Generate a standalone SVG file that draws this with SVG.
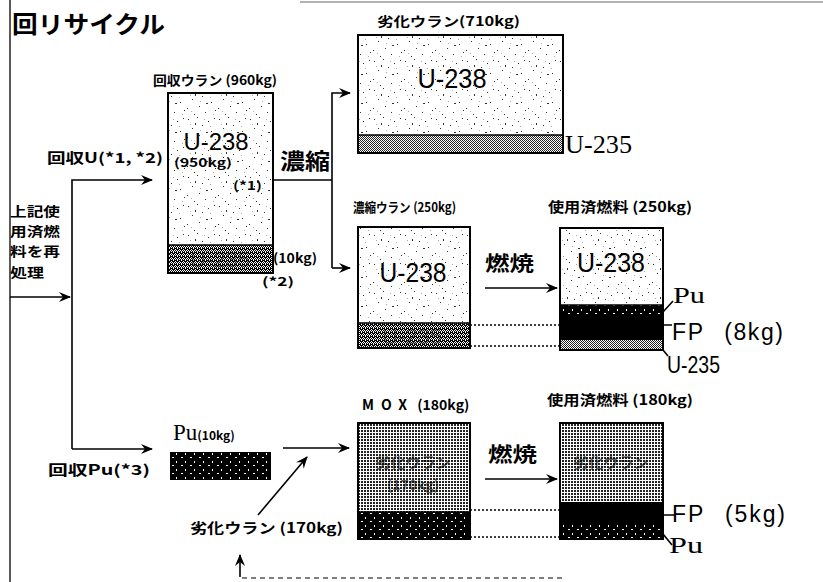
<svg xmlns="http://www.w3.org/2000/svg" width="823" height="582" viewBox="0 0 823 582">
<defs>
<style>
.jp{font-family:"Noto Sans CJK JP","Noto Sans",sans-serif;font-weight:bold;fill:#000}
.sans{font-family:"Liberation Sans",Arial,sans-serif;fill:#000}
.serif{font-family:"Liberation Serif","Times New Roman",serif;fill:#000}
.box{stroke:#000;stroke-width:2}
.ln{fill:none;stroke:#000;stroke-width:1.6}
.dot{fill:none;stroke:#000;stroke-width:1.5;stroke-dasharray:2 2}
</style>
<marker id="ah" viewBox="0 0 12 10" refX="11" refY="5" markerWidth="13" markerHeight="10" markerUnits="userSpaceOnUse" orient="auto">
<path d="M0,0 L12,5 L0,10 L4,5 z" fill="#000"/>
</marker>
<pattern id="stip" width="31" height="29" patternUnits="userSpaceOnUse">
<rect width="31" height="29" fill="#fff"/>
<g fill="#333">
<rect x="2" y="3" width="1" height="1"/><rect x="11" y="1" width="1" height="1"/><rect x="22" y="5" width="1" height="1"/><rect x="28" y="2" width="1" height="1"/>
<rect x="6" y="12" width="1" height="1"/><rect x="16" y="9" width="1" height="1"/><rect x="25" y="15" width="1" height="1"/><rect x="1" y="21" width="1" height="1"/>
<rect x="13" y="19" width="1" height="1"/><rect x="19" y="25" width="1" height="1"/><rect x="29" y="23" width="1" height="1"/><rect x="8" y="27" width="1" height="1"/>
<rect x="20" y="16" width="2" height="1"/><rect x="9" y="7" width="1" height="2"/>
</g>
<g fill="#aaa">
<rect x="4" y="8" width="1" height="1"/><rect x="14" y="14" width="1" height="1"/><rect x="24" y="10" width="1" height="1"/><rect x="27" y="27" width="1" height="1"/><rect x="5" y="24" width="1" height="1"/><rect x="18" y="3" width="1" height="1"/>
</g>
</pattern>
<pattern id="dense" width="3" height="3" patternUnits="userSpaceOnUse">
<rect width="3" height="3" fill="#fff"/><rect x="1" y="1" width="2" height="2" fill="#222"/>
</pattern>
<pattern id="u235" width="4" height="4" patternUnits="userSpaceOnUse">
<rect width="4" height="4" fill="#000"/>
<g fill="#fff"><rect x="1" y="0" width="1" height="1"/><rect x="3" y="1" width="1" height="1"/><rect x="0" y="2" width="1" height="1"/><rect x="2" y="2" width="1" height="1"/><rect x="1" y="3" width="1" height="1"/><rect x="3" y="3" width="1" height="1"/></g>
</pattern>
<pattern id="chk" width="2" height="2" patternUnits="userSpaceOnUse">
<rect width="2" height="2" fill="#fff"/><rect width="1" height="1" fill="#222"/><rect x="1" y="1" width="1" height="1" fill="#222"/>
</pattern>
<pattern id="pu" width="9" height="8" patternUnits="userSpaceOnUse">
<rect width="9" height="8" fill="#000"/><rect x="1" y="1" width="2" height="1" fill="#fff"/><rect x="5" y="5" width="1" height="2" fill="#fff"/>
</pattern>
</defs>
<rect width="823" height="582" fill="#fff"/>

<!-- frame lines -->
<line x1="10" y1="0" x2="10" y2="582" stroke="#222" stroke-width="1.5"/>
<line x1="300" y1="2" x2="823" y2="2" stroke="#999" stroke-width="1.5"/>

<text class="jp" x="12" y="33" font-size="24" textLength="153" lengthAdjust="spacingAndGlyphs">回リサイクル</text>

<!-- left label -->
<g id="source">
<text class="jp" x="10" y="216" font-size="13" textLength="50" lengthAdjust="spacingAndGlyphs">上記使</text>
<text class="jp" x="10" y="236" font-size="13" textLength="50" lengthAdjust="spacingAndGlyphs">用済燃</text>
<text class="jp" x="10" y="256" font-size="13" textLength="50" lengthAdjust="spacingAndGlyphs">料を再</text>
<text class="jp" x="10" y="277" font-size="13" textLength="34" lengthAdjust="spacingAndGlyphs">処理</text>
</g>

<!-- connectors -->
<g id="connectors">
<path class="ln" d="M10,297 L70,297" marker-end="url(#ah)"/>
<path class="ln" d="M72,449 L72,180 L152,180" marker-end="url(#ah)"/>
<path class="ln" d="M72,449 L152,449" marker-end="url(#ah)"/>
<path class="ln" d="M273,180 L332,180"/>
<path class="ln" d="M332,268 L332,93 L350,93" marker-end="url(#ah)"/>
<path class="ln" d="M332,268 L350,268" marker-end="url(#ah)"/>
<path class="ln" d="M485,288 L557,288" marker-end="url(#ah)"/>
<path class="ln" d="M485,479 L557,479" marker-end="url(#ah)"/>
<path class="ln" d="M283,448 L349,448" marker-end="url(#ah)"/>
<path class="ln" d="M258,515 L307,457" marker-end="url(#ah)"/>
<path class="ln" d="M240,577 L240,555" marker-end="url(#ah)"/>
<path d="M242,578 L565,578" fill="none" stroke="#000" stroke-width="1.2" stroke-dasharray="5 4"/>
<path class="dot" d="M470,325 L560,325 M470,346 L560,346"/>
<path class="dot" d="M470,510 L560,510 M470,537 L560,537"/>
</g>

<g id="labels">
<text class="jp" x="47" y="163" font-size="14" textLength="116" lengthAdjust="spacingAndGlyphs">回収U(*1, *2)</text>
<text class="jp" x="48" y="475" font-size="14" textLength="102" lengthAdjust="spacingAndGlyphs">回収Pu(*3)</text>
<text class="jp" x="280" y="169" font-size="22" textLength="50" lengthAdjust="spacingAndGlyphs">濃縮</text>
<text class="jp" x="485" y="271" font-size="20" textLength="49" lengthAdjust="spacingAndGlyphs">燃焼</text>
<text class="jp" x="488" y="462" font-size="20" textLength="49" lengthAdjust="spacingAndGlyphs">燃焼</text>
<text class="jp" x="190" y="533" font-size="14" textLength="153" lengthAdjust="spacingAndGlyphs">劣化ウラン (170kg)</text>
</g>

<!-- recovered uranium -->
<g id="recovered-u">
<text class="jp" x="153" y="85" font-size="13" textLength="124" lengthAdjust="spacingAndGlyphs">回収ウラン (960kg)</text>
<rect class="box" x="168" y="93" width="105" height="180" fill="url(#stip)"/>
<rect x="169" y="245" width="103" height="27" fill="url(#u235)"/>
<line x1="168" y1="245" x2="273" y2="245" stroke="#000" stroke-width="1.5"/>
<text class="sans" x="216" y="150" font-size="24" text-anchor="middle" textLength="65" lengthAdjust="spacingAndGlyphs">U-238</text>
<text class="jp" x="203" y="167" font-size="12" text-anchor="middle" textLength="58" lengthAdjust="spacingAndGlyphs">(950kg)</text>
<text class="jp" x="233" y="190" font-size="12" textLength="29" lengthAdjust="spacingAndGlyphs">(*1)</text>
<text class="sans" x="220" y="267" font-size="22" text-anchor="middle" opacity="0.35">U-235</text>
<text class="jp" x="273" y="263" font-size="13" textLength="44" lengthAdjust="spacingAndGlyphs">(10kg)</text>
<text class="jp" x="262" y="286" font-size="12" textLength="32" lengthAdjust="spacingAndGlyphs">(*2)</text>
</g>

<!-- depleted uranium top -->
<g id="depleted-u">
<text class="jp" x="377" y="26" font-size="13" textLength="143" lengthAdjust="spacingAndGlyphs">劣化ウラン(710kg)</text>
<rect class="box" x="358" y="35" width="205" height="118" fill="url(#stip)"/>
<rect x="359" y="135" width="203" height="17" fill="url(#chk)"/>
<line x1="358" y1="135" x2="563" y2="135" stroke="#000" stroke-width="1.5"/>
<text class="sans" x="452" y="88" font-size="27" text-anchor="middle" textLength="69" lengthAdjust="spacingAndGlyphs">U-238</text>
<text class="serif" x="565" y="153" font-size="26" textLength="67" lengthAdjust="spacingAndGlyphs">U-235</text>
</g>

<!-- enriched uranium -->
<g id="enriched-u">
<text class="jp" x="353" y="212" font-size="13" textLength="103" lengthAdjust="spacingAndGlyphs">濃縮ウラン (250kg)</text>
<rect class="box" x="358" y="227" width="112" height="121" fill="url(#stip)"/>
<rect x="359" y="323" width="110" height="24" fill="url(#u235)"/>
<line x1="358" y1="323" x2="470" y2="323" stroke="#000" stroke-width="1.5"/>
<text class="sans" x="413" y="282" font-size="27" text-anchor="middle" textLength="67" lengthAdjust="spacingAndGlyphs">U-238</text>
<text class="sans" x="412" y="344" font-size="22" text-anchor="middle" opacity="0.35">U-235</text>
</g>

<!-- spent fuel 250 -->
<g id="spent-250">
<text class="jp" x="548" y="212" font-size="14" textLength="144" lengthAdjust="spacingAndGlyphs">使用済燃料 (250kg)</text>
<rect class="box" x="560" y="228" width="103" height="122" fill="url(#stip)"/>
<rect x="561" y="305" width="101" height="12" fill="url(#pu)"/>
<rect x="561" y="317" width="101" height="23" fill="#000"/>
<rect x="561" y="340" width="101" height="9" fill="url(#chk)"/>
<line x1="560" y1="305" x2="663" y2="305" stroke="#000" stroke-width="1.5"/>
<text class="sans" x="611" y="272" font-size="27" text-anchor="middle" textLength="68" lengthAdjust="spacingAndGlyphs">U-238</text>
<path class="ln" d="M663,312 L673,301 M663,325 L672,325 M663,350 L668,356"/>
<text class="serif" x="673" y="303" font-size="24" textLength="32" lengthAdjust="spacingAndGlyphs">Pu</text>
<text class="sans" x="672" y="340" font-size="23" word-spacing="12" textLength="111" lengthAdjust="spacing">FP (8kg)</text>
<text class="sans" x="667" y="373" font-size="24" textLength="53" lengthAdjust="spacingAndGlyphs">U-235</text>
</g>

<!-- plutonium -->
<g id="pu">
<text x="173" y="440"><tspan class="serif" font-size="23">Pu</tspan><tspan class="jp" font-size="12">(10kg)</tspan></text>
<rect x="170" y="452" width="101" height="28" fill="url(#pu)"/>
</g>

<!-- MOX -->
<g id="mox">
<text class="jp" x="362" y="410" font-size="14"><tspan letter-spacing="7">MOX</tspan> (180kg)</text>
<rect class="box" x="358" y="423" width="112" height="116" fill="url(#dense)"/>
<rect x="359" y="512" width="110" height="26" fill="url(#pu)"/>
<line x1="358" y1="512" x2="470" y2="512" stroke="#000" stroke-width="1.5"/>
<text class="jp" x="413" y="468" font-size="15" text-anchor="middle" opacity="0.6">劣化ウラン</text>
<text class="jp" x="413" y="490" font-size="14" text-anchor="middle" opacity="0.6">(170kg)</text>
</g>

<!-- spent fuel 180 -->
<g id="spent-180">
<text class="jp" x="547" y="405" font-size="14" textLength="146" lengthAdjust="spacingAndGlyphs">使用済燃料 (180kg)</text>
<rect class="box" x="560" y="423" width="103" height="116" fill="url(#dense)"/>
<rect x="561" y="502" width="101" height="20" fill="#000"/>
<rect x="561" y="522" width="101" height="16" fill="url(#pu)"/>
<text class="jp" x="611" y="468" font-size="15" text-anchor="middle" opacity="0.6">劣化ウラン</text>
<path class="ln" d="M663,515 L675,515 M663,534 L672,545"/>
<text class="sans" x="672" y="522" font-size="23" word-spacing="12" textLength="113" lengthAdjust="spacing">FP (5kg)</text>
<text class="serif" x="669" y="553" font-size="24" textLength="34" lengthAdjust="spacingAndGlyphs">Pu</text>
</g>
</svg>
